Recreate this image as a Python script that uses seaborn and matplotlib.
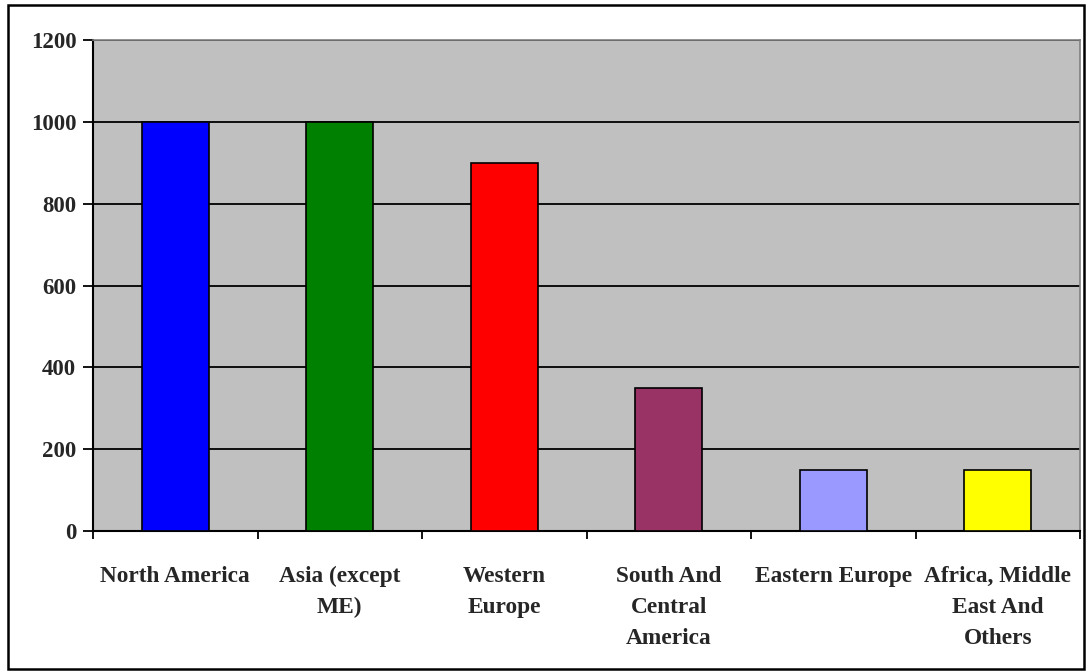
import matplotlib
matplotlib.use("Agg")
import matplotlib.pyplot as plt
import seaborn as sns
import pandas as pd
from matplotlib.patches import Rectangle

regions = ["North America", "Asia (except\nME)", "Western\nEurope",
           "South And\nCentral\nAmerica", "Eastern Europe",
           "Africa, Middle\nEast And\nOthers"]
values = [1000, 1000, 900, 350, 150, 150]
colors = ["#0000FF", "#008000", "#FF0000", "#993366", "#9999FF", "#FFFF00"]
yticks = [0, 200, 400, 600, 800, 1000, 1200]

sns.set_theme(style="white")
plt.rcParams["font.family"] = ["Liberation Serif", "DejaVu Serif"]
plt.rcParams["font.weight"] = "bold"

df = pd.DataFrame({"region": regions, "value": values})

fig = plt.figure(figsize=(10.89, 6.72), dpi=100)
ax = fig.add_axes([93 / 1089, 1 - 531 / 672, (1080 - 93) / 1089, (531 - 40) / 672])

sns.barplot(data=df, x="region", y="value", hue="region", palette=colors,
            saturation=1, dodge=False, legend=False, width=0.41,
            edgecolor="black", linewidth=1.2, ax=ax, zorder=3)

ax.set_facecolor("#C0C0C0")
ax.set_ylim(0, 1200)
ax.set_xlim(-0.5, len(regions) - 0.5)
ax.set_yticks(yticks)
ax.set_yticklabels([str(t) for t in yticks], fontsize=16.5, fontweight="bold")
ax.yaxis.grid(True, color="black", linewidth=1.3, zorder=1)
ax.set_axisbelow(True)

# category labels centred, tick marks on the category boundaries
ax.set_xticks(range(len(regions)))
ax.set_xticklabels(regions, fontsize=16.8, fontweight="bold", linespacing=1.63,
                   va="top")
ax.tick_params(axis="x", length=0, pad=25)
ax.set_xticks([i - 0.5 for i in range(len(regions) + 1)], minor=True)
ax.tick_params(axis="x", which="minor", length=6, width=1.3, color="black",
               direction="out", bottom=True)
ax.tick_params(axis="y", length=7, width=1.3, color="black", direction="out",
               left=True, pad=5)
ax.set_xlabel("")
ax.set_ylabel("")

for side in ("left", "bottom"):
    ax.spines[side].set_color("black")
    ax.spines[side].set_linewidth(1.5)
for side in ("top", "right"):
    ax.spines[side].set_color("#808080")
    ax.spines[side].set_linewidth(1.2)

fig.patches.append(Rectangle((8 / 1089, 3 / 672), (1084 - 8) / 1089,
                             (668 - 4) / 672, transform=fig.transFigure,
                             fill=False, edgecolor="black", linewidth=1.8))

fig.savefig("out.png", dpi=100)
